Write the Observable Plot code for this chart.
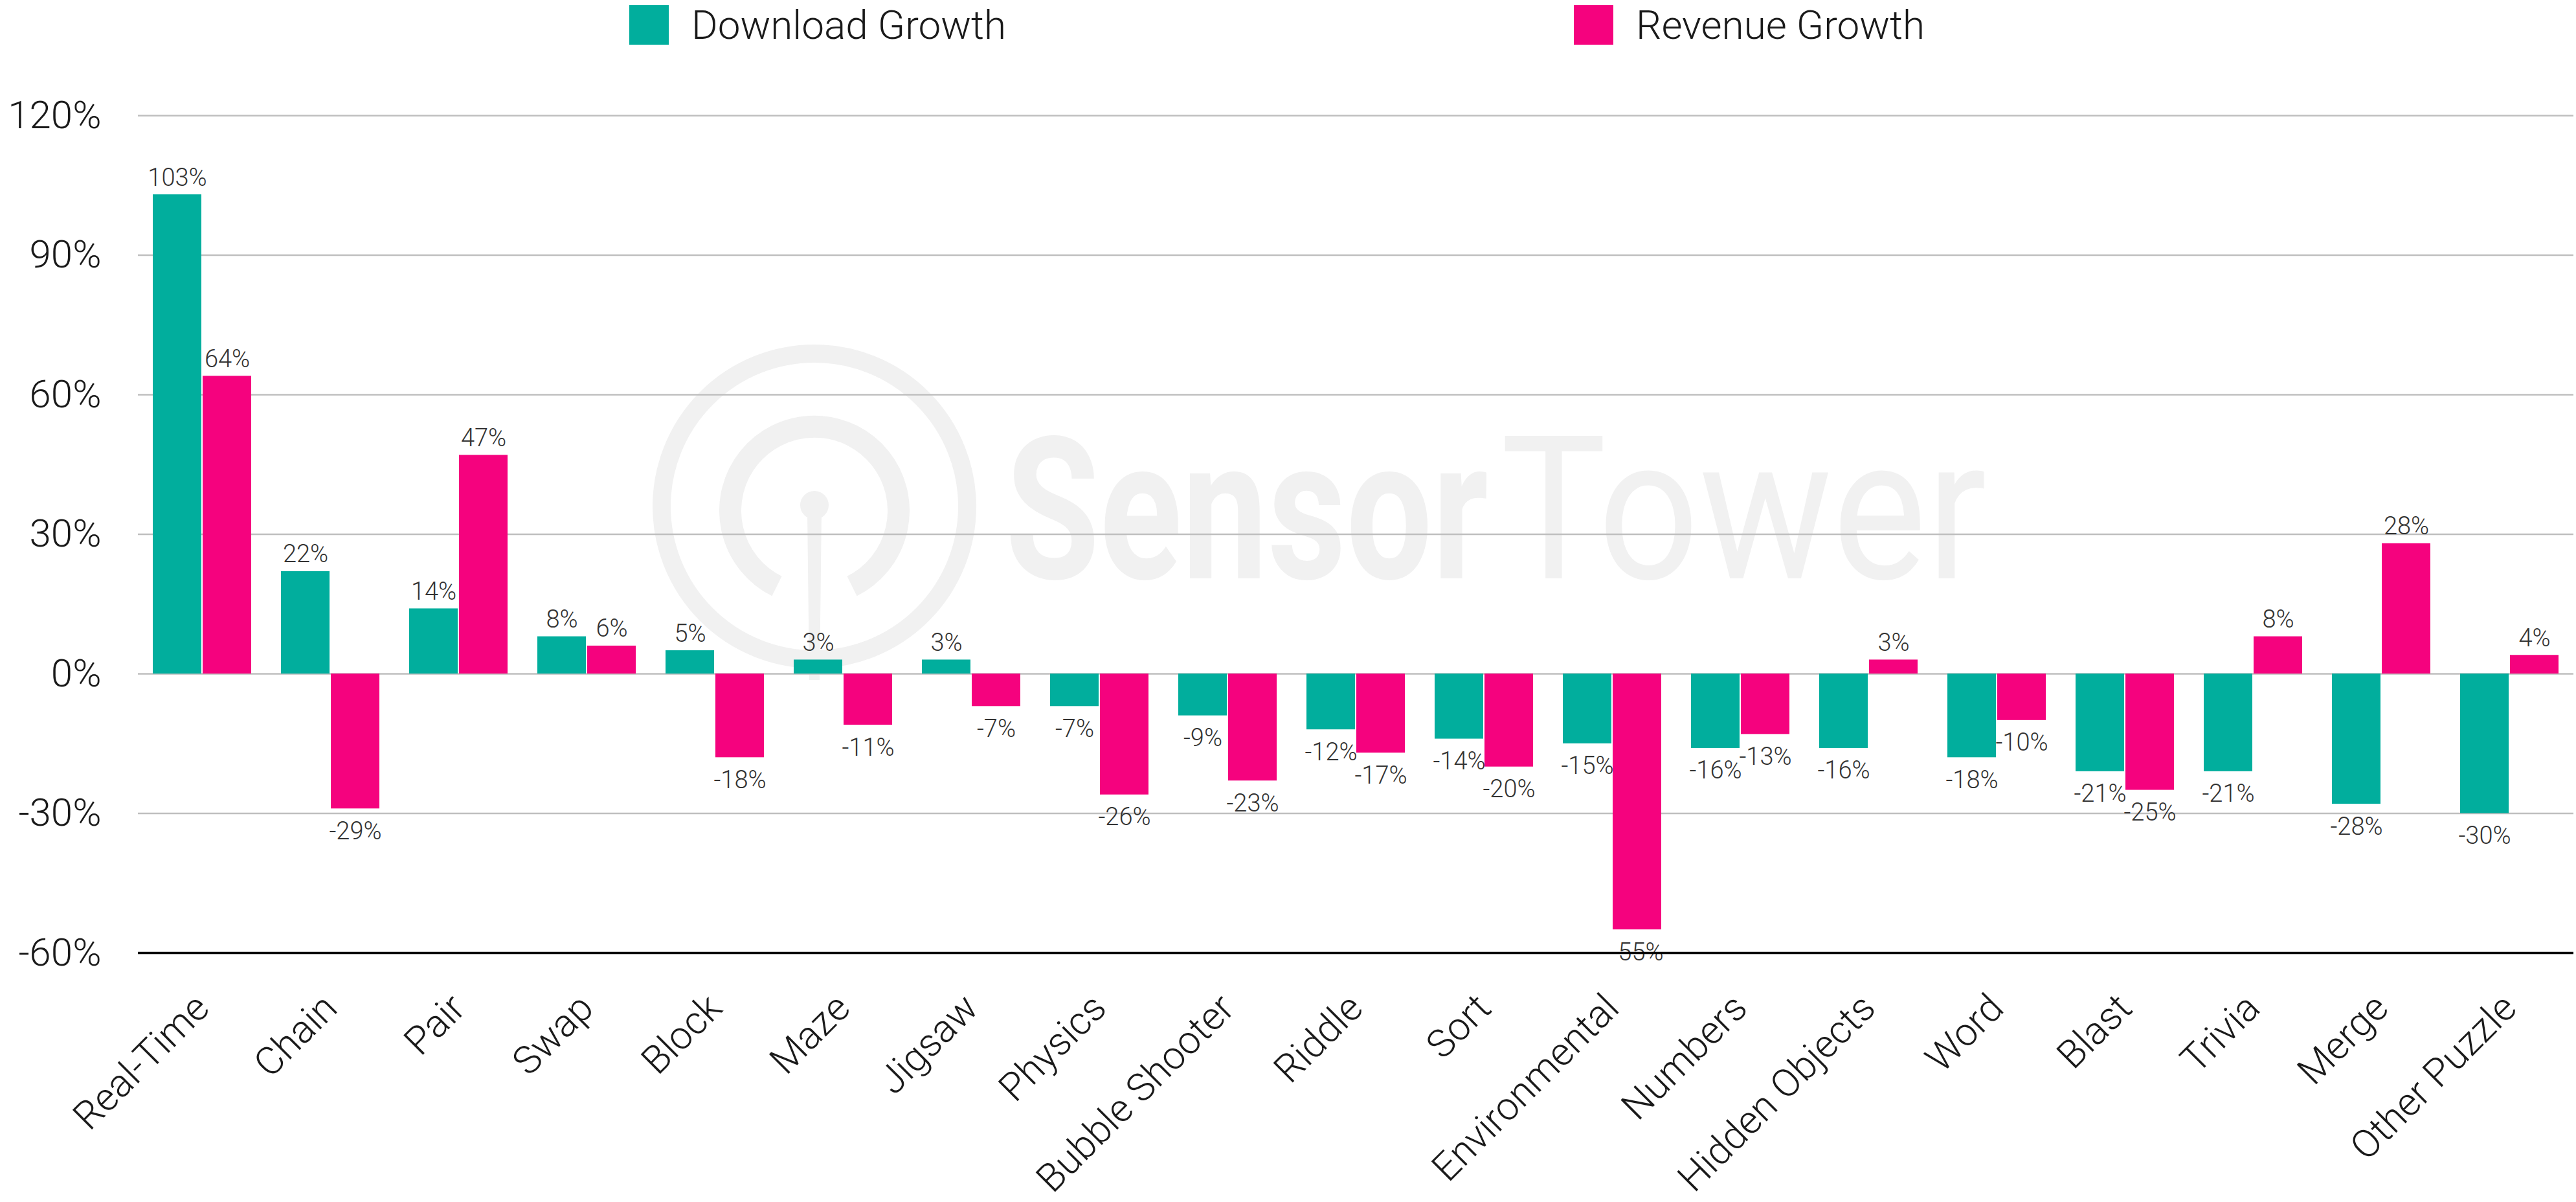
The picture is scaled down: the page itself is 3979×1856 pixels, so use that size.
<!DOCTYPE html>
<html>
<head>
<meta charset="utf-8">
<script src="https://cdn.jsdelivr.net/npm/d3@7"></script>
<script src="https://cdn.jsdelivr.net/npm/@observablehq/plot@0.6"></script>
<style>
  body { margin: 0; background: #fff; font-family: Roboto, "Noto Sans", sans-serif; font-weight: 300; }
  #wrap { position: relative; width: 3979px; height: 1856px; overflow: hidden; background: #fff; }
  #wm { position: absolute; left: 0; top: 0; }
  #legend { position: relative; height: 80px; }
  .item { position: absolute; top: 8px; height: 61px; display: flex; align-items: center; font-size: 62px; color: #1a1a1a; white-space: nowrap; }
  .sw { width: 61px; height: 61px; margin-right: 35px; flex: none; }
  #chart { position: absolute; left: 0; top: 80px; }
</style>
</head>
<body>
<div id="wrap">
  <svg id="wm" width="3979" height="1856">
    <g fill="none" stroke="#f1f1f1">
      <circle cx="1258" cy="782" r="236" stroke-width="28"/>
      <path d="M 1200 905 A 130 130 0 1 1 1316 905" stroke-width="34"/>
    </g>
    <circle cx="1258" cy="780" r="22" fill="#f1f1f1"/>
    <path d="M 1247 790 L 1269 790 L 1266 1050 L 1250 1050 Z" fill="#f1f1f1"/>
    <text transform="translate(1553,893) scale(1,1.3)" font-family="Roboto, sans-serif" font-weight="700" font-size="236" fill="#f1f1f1">Sensor</text>
    <text transform="translate(2318,893) scale(1,1.13)" font-family="Roboto, sans-serif" font-weight="400" font-size="274" fill="#f1f1f1">Tower</text>
  </svg>
  <div id="legend"></div>
  <div id="chart"></div>
</div>
<script>
// ---- data ----
const categories = ["Real-Time", "Chain", "Pair", "Swap", "Block", "Maze", "Jigsaw", "Physics", "Bubble Shooter", "Riddle", "Sort", "Environmental", "Numbers", "Hidden Objects", "Word", "Blast", "Trivia", "Merge", "Other Puzzle"];
const downloadGrowth = [103, 22, 14, 8, 5, 3, 3, -7, -9, -12, -14, -15, -16, -16, -18, -21, -21, -28, -30];
const revenueGrowth = [64, -29, 47, 6, -18, -11, -7, -26, -23, -17, -20, -55, -13, 3, -10, -25, 8, 28, 4];
const yTicks = [-60, -30, 0, 30, 60, 90, 120];
const seriesNames = ["Download Growth", "Revenue Growth"];
const seriesColors = ["#01AE9D", "#F5027E"];
const legendLeft = [972, 2431];

// ---- legend ----
const legend = document.getElementById("legend");
seriesNames.forEach((name, i) => {
  const item = document.createElement("div");
  item.className = "item";
  item.style.left = legendLeft[i] + "px";
  const sw = document.createElement("div");
  sw.className = "sw";
  sw.style.background = seriesColors[i];
  const label = document.createElement("span");
  label.textContent = name;
  item.appendChild(sw);
  item.appendChild(label);
  legend.appendChild(item);
});

// ---- chart ----
const rows = categories.map((c, i) => ({ category: c, download: downloadGrowth[i], revenue: revenueGrowth[i] }));
const fmt = v => `${v}%`;
const half = 38.5;
const labelStyle = { fontSize: 38, fill: "#333333" };

const chart = Plot.plot({
  width: 3979,
  height: 1776,
  marginTop: 98,
  marginBottom: 385,
  marginLeft: 213,
  marginRight: 4,
  style: { fontFamily: "Roboto, sans-serif", fontWeight: 300, background: "transparent", overflow: "visible" },
  x: { domain: categories, paddingInner: 0.232, paddingOuter: 0.116, axis: null },
  y: { domain: [-60, 120], axis: null },
  marks: [
    Plot.ruleY(yTicks.filter(t => t > -60), { stroke: "#bfbfbf", strokeWidth: 2.5 }),
    Plot.barY(rows, { x: "category", y: "download", fill: seriesColors[0], insetRight: 77 }),
    Plot.barY(rows, { x: "category", y: "revenue", fill: seriesColors[1], insetLeft: 77 }),
    Plot.text(rows.filter(d => d.download >= 0), { x: "category", y: "download", text: d => fmt(d.download), dx: -half, dy: -14, lineAnchor: "bottom", ...labelStyle }),
    Plot.text(rows.filter(d => d.download < 0), { x: "category", y: "download", text: d => fmt(d.download), dx: -half, dy: 20, lineAnchor: "top", ...labelStyle }),
    Plot.text(rows.filter(d => d.revenue >= 0), { x: "category", y: "revenue", text: d => fmt(d.revenue), dx: half, dy: -14, lineAnchor: "bottom", ...labelStyle }),
    Plot.text(rows.filter(d => d.revenue < 0), { x: "category", y: "revenue", text: d => fmt(d.revenue), dx: half, dy: 20, lineAnchor: "top", ...labelStyle }),
    Plot.ruleY([-60], { stroke: "#000", strokeWidth: 3.5 }),
    Plot.axisY({ ticks: yTicks, tickFormat: fmt, tickSize: 0, tickPadding: 57, fontSize: 60, label: null, fill: "#1a1a1a" }),
    Plot.text(categories, { x: d => d, frameAnchor: "bottom", dy: 75, rotate: -45, textAnchor: "end", lineAnchor: "middle", fontSize: 60, fill: "#1a1a1a" })
  ]
});
document.getElementById("chart").appendChild(chart);
</script>
</body>
</html>
